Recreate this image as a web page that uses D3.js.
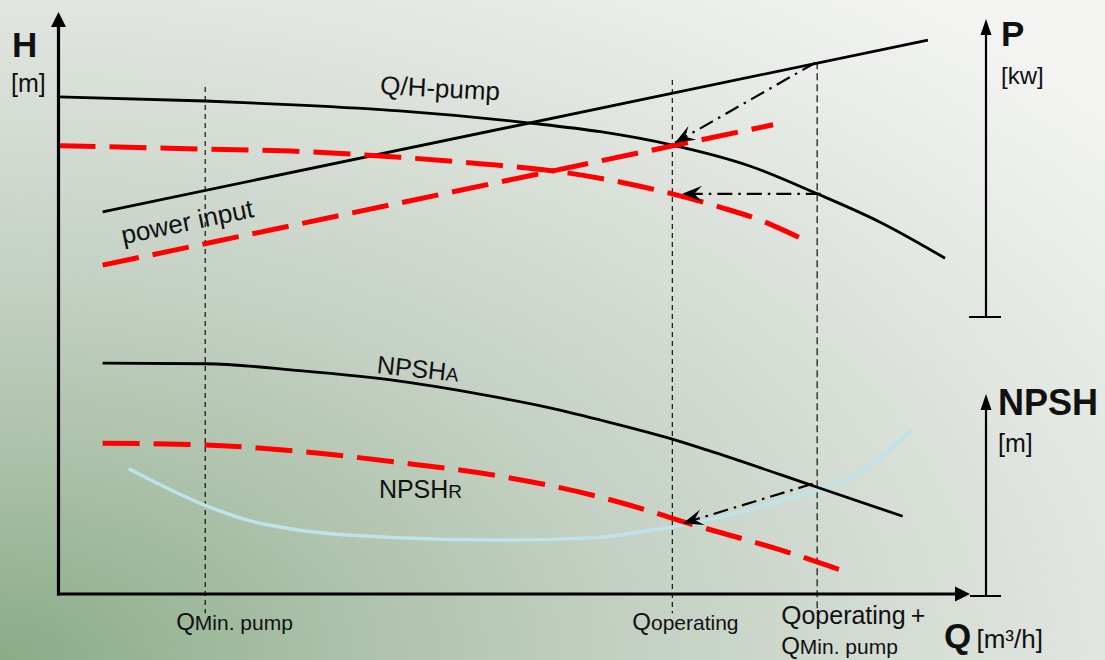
<!DOCTYPE html>
<html><head><meta charset="utf-8">
<script src="https://cdn.jsdelivr.net/npm/d3@7"></script>
<style>html,body{margin:0;padding:0;overflow:hidden;background:#e8ece7}</style>
</head><body>
<svg id="c" width="1105" height="660"></svg>
<script>
// ---- data (Q in % of axis, H in % of axis) ----
const qhPump = [[0,85.7],[16.3,85.0],[26.8,84.3],[37.9,83.3],[52.4,81.2],[60.2,79.7],[68.2,77.4],[76.8,73.8],[84.3,69.0],[91.3,64.1],[98.5,57.9]];
const qhReduced = [[0,77.3],[16.3,76.7],[26.8,76.3],[37.9,75.3],[46.8,74.2],[55.7,72.8],[62.5,71.0],[68.2,69.0],[73.5,66.7],[77.9,64.5],[82.4,61.4]];
const powerInput = [[4.9,65.9],[96.6,95.5]];
const powerReduced = [[4.9,56.7],[79.4,80.9]];
const npshA = [[4.9,39.8],[16.3,39.7],[26.8,38.5],[37.9,36.7],[49.1,33.8],[54.6,32.1],[60.2,30.0],[68.2,26.7],[72.1,24.8],[84.3,18.4],[93.8,13.4]];
const npshR = [[4.9,26.0],[16.3,25.7],[26.8,24.6],[37.2,22.8],[49.1,20.3],[60.2,16.7],[64.6,14.8],[70.2,12.1],[80.2,7.6],[87.2,4.0]];
const systemCurve = [[7.8,21.6],[16.3,15.3],[21.3,12.6],[26.8,11.0],[37.9,9.7],[49.1,9.3],[60.2,9.8],[64.6,10.7],[70.2,12.1],[75.7,14.1],[81.3,16.6],[85.4,18.4],[89.1,21.0],[94.8,28.3]];
const markerQ = [16.3, 68.2, 84.3];          // Qmin, Qoperating, Qoperating+Qmin
const markerTop = [87.4, 88.6, 91.7];
const arrows = [[[84.1,91.6],[68.5,77.8]], [[84.7,69.0],[69.3,69.0]], [[83.8,19.0],[69.4,12.2]]];
const curveLabels = ["Q/H-pump","power input"];

const W=1105,H=660;
const svg=d3.select('#c');
const defs=svg.append('defs');
const FONT='"Liberation Sans", Arial, Helvetica, sans-serif';

// background
const g=defs.append('radialGradient').attr('id','bg').attr('cx',0).attr('cy',1).attr('r',1.3);
[[0,'#89ac86'],[0.25,'#adc2ab'],[0.45,'#c5d1c4'],[0.77,'#e1e6e0'],[1,'#f3f4f2']].forEach(s=>g.append('stop').attr('offset',s[0]).attr('stop-color',s[1]));
svg.append('rect').attr('width',W).attr('height',H).attr('fill','url(#bg)');

// markers
function marker(id,path,w,h){
  defs.append('marker').attr('id',id).attr('markerUnits','userSpaceOnUse')
   .attr('viewBox',`${-w} ${-h/2} ${w*2} ${h}`).attr('refX',0).attr('refY',0)
   .attr('markerWidth',w*2).attr('markerHeight',h).attr('orient','auto')
   .append('path').attr('d',path).attr('fill','#000');
}
marker('axArrow','M0,-7.5L15,0L0,7.5Z',16,16);
marker('smArrow','M0,-5.5L16,0L0,5.5Z',17,12);
marker('ptr','M0,0L-20,-8L-12,0L-20,8Z',21,18);

const x=d3.scaleLinear().domain([0,100]).range([58.5,958.5]);
const y=d3.scaleLinear().domain([0,100]).range([594,14]);
const yP=d3.scaleLinear().domain([0,100]).range([317,35]);
const yN=d3.scaleLinear().domain([0,100]).range([596,410]);
const smooth=d3.line().x(d=>x(d[0])).y(d=>y(d[1])).curve(d3.curveMonotoneX);
const straight=d3.line().x(d=>x(d[0])).y(d=>y(d[1]));

// vertical reference lines
markerQ.forEach((q,i)=>{
  svg.append('line').attr('x1',x(q)).attr('x2',x(q)).attr('y1',y(markerTop[i])).attr('y2',y(-3.3))
   .attr('stroke',i==2?'#444':'#000').attr('stroke-width',i==2?1.6:1.1).attr('stroke-dasharray',i==2?'7,4':'5,4');
});

// system curve
svg.append('path').attr('d',smooth(systemCurve)).attr('fill','none').attr('stroke','#bfe3ea').attr('stroke-width',3.5);

// black curves
[qhPump,npshA].forEach(d=>svg.append('path').attr('d',smooth(d)).attr('fill','none').attr('stroke','#000').attr('stroke-width',2.8));
svg.append('path').attr('d',straight(powerInput)).attr('fill','none').attr('stroke','#000').attr('stroke-width',2.8);

// red dashed curves
[qhReduced,npshR].forEach(d=>svg.append('path').attr('d',smooth(d)).attr('fill','none').attr('stroke','#ff0000').attr('stroke-width',5).attr('stroke-dasharray','37,14'));
svg.append('path').attr('d',straight(powerReduced)).attr('fill','none').attr('stroke','#ff0000').attr('stroke-width',5).attr('stroke-dasharray','37,14');

// dash-dot arrows
arrows.forEach(a=>svg.append('path').attr('d',straight(a)).attr('fill','none').attr('stroke','#000').attr('stroke-width',2.2)
  .attr('stroke-dasharray','15,6,2.5,6').attr('marker-end','url(#ptr)'));

// main axes
svg.append('line').attr('x1',x(0)).attr('x2',x(0)).attr('y1',y(0)+1.5).attr('y2',27).attr('stroke','#000').attr('stroke-width',3.2).attr('marker-end','url(#axArrow)');
svg.append('line').attr('x1',x(0)-1.5).attr('x2',955).attr('y1',y(0)).attr('y2',y(0)).attr('stroke','#000').attr('stroke-width',3.2).attr('marker-end','url(#axArrow)');
// P axis
svg.append('line').attr('x1',986).attr('x2',986).attr('y1',yP(0)).attr('y2',yP(100)).attr('stroke','#000').attr('stroke-width',2.2).attr('marker-end','url(#smArrow)');
svg.append('line').attr('x1',969).attr('x2',1001).attr('y1',yP(0)).attr('y2',yP(0)).attr('stroke','#000').attr('stroke-width',2);
// NPSH axis
svg.append('line').attr('x1',986).attr('x2',986).attr('y1',yN(0)).attr('y2',yN(100)).attr('stroke','#000').attr('stroke-width',2.2).attr('marker-end','url(#smArrow)');
svg.append('line').attr('x1',970).attr('x2',1001).attr('y1',yN(0)).attr('y2',yN(0)).attr('stroke','#000').attr('stroke-width',2);

// text helper
function txt(xp,yp,parts,rot){
  const t=svg.append('text').attr('x',xp).attr('y',yp).attr('font-family',FONT).attr('fill','#111');
  if(rot) t.attr('transform',`rotate(${rot},${xp},${yp})`);
  parts.forEach(p=>t.append('tspan').text(p[0]).attr('font-size',p[1]).attr('font-weight',p[2]||'normal'));
  return t;
}
// axis titles
txt(12,57,[['H',35,'bold']]);
txt(11,92,[['[m]',25]]);
txt(1001,46,[['P',35,'bold']]);
txt(1001,84,[['[kw]',24]]);
txt(998,415,[['NPSH',36,'bold']]);
txt(998,452,[['[m]',25]]);
txt(944,648,[['Q',35,'bold'],['\u2009[m\u00b3/h]',26]]);

// curve labels
txt(x(35.7),y(86.2),[[curveLabels[0],26]],3);
txt(x(7.2),y(60.3),[[curveLabels[1],26]],-11.8);
txt(x(35.3),y(38.1),[['NPSH',25],['A',19]],6);
txt(x(35.6),y(16.6),[['NPSH',25],['R',19]]);

// Q labels
txt(x(markerQ[0])-29,630,[['Q',24],['Min. pump',21]]);
txt(x(markerQ[1])-40,630,[['Q',24],['operating',21]]);
txt(x(markerQ[2])-36,624,[['Q',26],['operating',25],['\u2009+',25]]);
txt(x(markerQ[2])-36,654,[['Q',24],['Min. pump',21]]);
</script>
</body></html>
